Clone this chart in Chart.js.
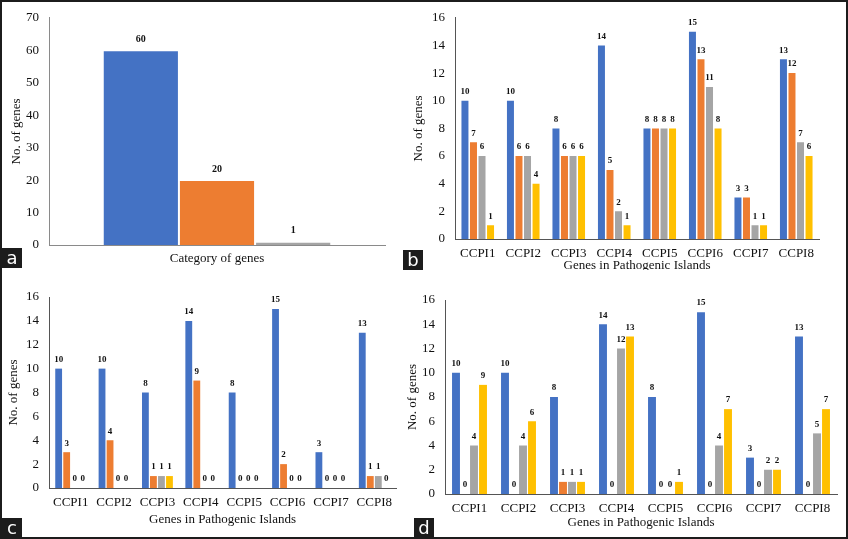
<!DOCTYPE html>
<html>
<head>
<meta charset="utf-8">
<script src="https://cdn.jsdelivr.net/npm/chart.js@4.4.0/dist/chart.umd.min.js"></script>
<style>
  body { margin: 0; background: #fff; }
  #wrap { position: relative; width: 848px; height: 539px; overflow: hidden; background: #fff; }
  .clip { position: absolute; overflow: hidden; }
  .clip > div { position: relative; }
  .tag { position: absolute; background: #1c1c1c; color: #fff; font: 18px "DejaVu Sans", sans-serif;
         text-align: center; width: 20px; height: 20px; line-height: 19px; z-index: 5; }
  #frame { position: absolute; left: 0; top: 0; width: 848px; height: 539px; border: 2px solid #1c1c1c;
           box-sizing: border-box; pointer-events: none; z-index: 6; }
</style>
</head>
<body>
<div id="wrap">
  <div class="clip" style="left:0;top:0;width:404px;height:270px"><div style="width:404px;height:270px"><canvas id="chartA"></canvas></div></div>
  <div class="clip" style="left:404px;top:0;width:444px;height:270px"><div style="width:444px;height:280px"><canvas id="chartB"></canvas></div></div>
  <div class="clip" style="left:0;top:270px;width:404px;height:269px"><div style="width:404px;height:269px"><canvas id="chartC"></canvas></div></div>
  <div class="clip" style="left:404px;top:270px;width:444px;height:269px"><div style="width:444px;height:269px"><canvas id="chartD"></canvas></div></div>
  <div class="tag" style="left:2px;top:248px">a</div>
  <div class="tag" style="left:403px;top:250px">b</div>
  <div class="tag" style="left:2px;top:518px">c</div>
  <div class="tag" style="left:414px;top:518px">d</div>
  <div id="frame"></div>
</div>
<script>
// panel a: one category, three bars
const aValues = [60, 20, 1];

// panels b, c, d: eight pathogenic islands, four series each
const islands = ["CCPI1", "CCPI2", "CCPI3", "CCPI4", "CCPI5", "CCPI6", "CCPI7", "CCPI8"];

const bBlue   = [10, 10, 8, 14, 8, 15, 3, 13];
const bOrange = [7, 6, 6, 5, 8, 13, 3, 12];
const bGray   = [6, 6, 6, 2, 8, 11, 1, 7];
const bYellow = [1, 4, 6, 1, 8, 8, 1, 6];

const cBlue   = [10, 10, 8, 14, 8, 15, 3, 13];
const cOrange = [3, 4, 1, 9, 0, 2, 0, 1];
const cGray   = [0, 0, 1, 0, 0, 0, 0, 1];
const cYellow = [0, 0, 1, 0, 0, 0, 0, 0];

const dBlue   = [10, 10, 8, 14, 8, 15, 3, 13];
const dOrange = [0, 0, 1, 0, 0, 0, 0, 0];
const dGray   = [4, 4, 1, 12, 0, 4, 2, 5];
const dYellow = [9, 6, 1, 13, 1, 7, 2, 7];

const colors = ["#4472C4", "#ED7D31", "#A5A5A5", "#FFC000"];

Chart.defaults.font.family = "'Liberation Serif', 'Times New Roman', serif";
Chart.defaults.color = "#111";

/* numbers on top of bars */
const valueLabels = {
  id: "valueLabels",
  afterDatasetsDraw(chart, args, opts) {
    const ctx = chart.ctx;
    ctx.save();
    ctx.font = opts.font;
    ctx.fillStyle = "#111";
    ctx.textAlign = "center";
    ctx.textBaseline = "middle";
    chart.data.datasets.forEach((ds, i) => {
      chart.getDatasetMeta(i).data.forEach((bar, j) => {
        ctx.fillText(ds.data[j], bar.x, bar.y - opts.offset);
      });
    });
    ctx.restore();
  }
};

function makeChart(id, labels, datasets, p) {
  return new Chart(document.getElementById(id), {
    type: "bar",
    data: { labels: labels, datasets: datasets },
    plugins: [valueLabels],
    options: {
      responsive: true,
      maintainAspectRatio: false,
      animation: false,
      layout: { padding: { left: 0, top: p.top, right: p.right, bottom: 0 } },
      datasets: { bar: { categoryPercentage: p.cat, barPercentage: p.bar } },
      plugins: {
        legend: { display: false },
        tooltip: { enabled: false },
        valueLabels: { font: p.labelFont, offset: p.labelOffset }
      },
      scales: {
        x: {
          grid: { display: false, drawTicks: false },
          border: { display: true, color: p.axisColor, width: 1 },
          ticks: { display: p.showTicks, padding: 7, font: { size: 13 }, color: "#111" },
          title: { display: true, text: p.xTitle, font: { size: 13 }, color: "#111",
                   padding: { top: 0, bottom: p.xTitlePad } },
          afterFit: s => { s.height = p.xHeight; }
        },
        y: {
          min: 0, max: p.max,
          grid: { display: false, drawTicks: false },
          border: { display: true, color: p.axisColor, width: 1 },
          ticks: { stepSize: p.step, padding: 10, font: { size: 13 }, color: "#111" },
          title: { display: true, text: "No. of genes", font: { size: 13 }, color: "#111",
                   padding: { top: p.yTitlePad, bottom: 0 } },
          afterFit: s => { s.width = p.yWidth; }
        }
      }
    }
  });
}

function fourSeries(blue, orange, gray, yellow) {
  return [blue, orange, gray, yellow].map((d, i) => ({
    data: d,
    backgroundColor: colors[i],
    borderWidth: 0
  }));
}

window.onload = function () {
  makeChart("chartA", [""], aValues.map((v, i) => ({
    data: [v], backgroundColor: colors[i], borderColor: "rgba(255,255,255,0.7)", borderWidth: 1
  })), {
    top: 15, right: 19, cat: 0.68, bar: 1, max: 70, step: 10,
    xHeight: 25, yWidth: 49, xTitle: "Category of genes", xTitlePad: 4, yTitlePad: 9,
    showTicks: false, axisColor: "#8a8a8a", labelFont: "bold 10px 'Liberation Serif'", labelOffset: 11
  });

  makeChart("chartB", islands, fourSeries(bBlue, bOrange, bGray, bYellow), {
    top: 16, right: 29, cat: 0.75, bar: 0.82, max: 16, step: 2,
    xHeight: 41, yWidth: 51, xTitle: "Genes in Pathogenic Islands", xTitlePad: 7, yTitlePad: 7,
    showTicks: true, axisColor: "#555", labelFont: "bold 9px 'Liberation Serif'", labelOffset: 9
  });

  makeChart("chartC", islands, fourSeries(cBlue, cOrange, cGray, cYellow), {
    top: 27, right: 8, cat: 0.74, bar: 0.85, max: 16, step: 2,
    xHeight: 51, yWidth: 49, xTitle: "Genes in Pathogenic Islands", xTitlePad: 12, yTitlePad: 6,
    showTicks: true, axisColor: "#555", labelFont: "bold 9px 'Liberation Serif'", labelOffset: 9
  });

  makeChart("chartD", islands, fourSeries(dBlue, dOrange, dGray, dYellow), {
    top: 30, right: 11, cat: 0.735, bar: 0.88, max: 16, step: 2,
    xHeight: 45, yWidth: 41, xTitle: "Genes in Pathogenic Islands", xTitlePad: 9, yTitlePad: 1,
    showTicks: true, axisColor: "#555", labelFont: "bold 9px 'Liberation Serif'", labelOffset: 9
  });
};
</script>
</body>
</html>
